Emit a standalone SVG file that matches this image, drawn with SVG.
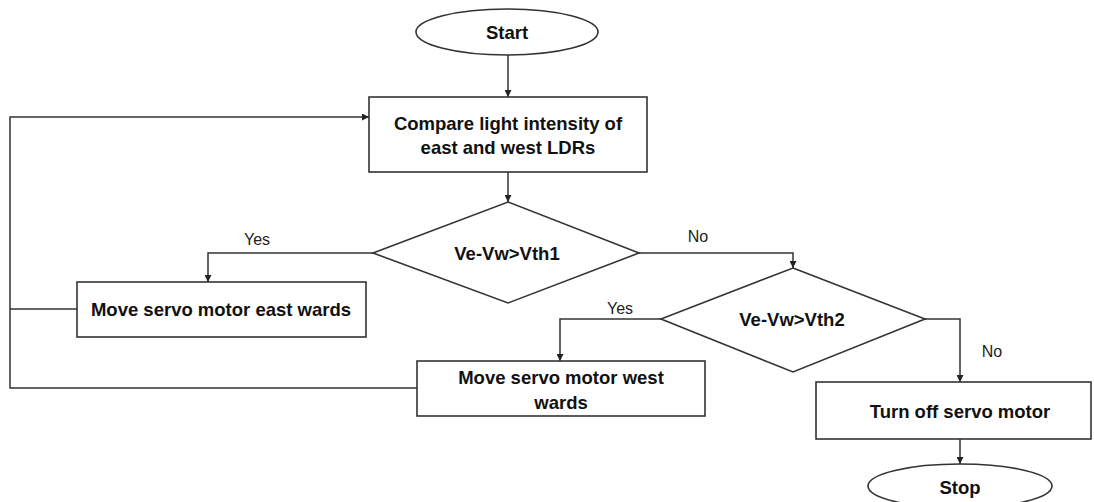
<svg xmlns="http://www.w3.org/2000/svg" width="1094" height="502" viewBox="0 0 1094 502">
<defs>
<style>
.shape{fill:#fff;stroke:#333;stroke-width:1.6}
.conn{fill:none;stroke:#333;stroke-width:1.5}
.t{font-family:"Liberation Sans",Arial,sans-serif;font-weight:bold;font-size:18.5px;fill:#111;text-anchor:middle;dominant-baseline:central}
.lbl{font-family:"Liberation Sans",Arial,sans-serif;font-size:16px;fill:#222;text-anchor:middle;dominant-baseline:central}
</style>
<marker id="arr" viewBox="0 0 10 10" refX="10" refY="5" markerWidth="7" markerHeight="7" markerUnits="userSpaceOnUse" orient="auto">
<path d="M0,0 L10,5 L0,10 z" fill="#222"/>
</marker>
</defs>
<rect width="1094" height="502" fill="#fff"/>
<g id="connectors">
<path class="conn" d="M508,55 V97" marker-end="url(#arr)"/>
<path class="conn" d="M508,172 V202" marker-end="url(#arr)"/>
<path class="conn" d="M373,253 H208 V282" marker-end="url(#arr)"/>
<path class="conn" d="M639,253 H793 V268" marker-end="url(#arr)"/>
<path class="conn" d="M661,319 H560 V361" marker-end="url(#arr)"/>
<path class="conn" d="M925,319 H960 V382" marker-end="url(#arr)"/>
<path class="conn" d="M960,439 V464" marker-end="url(#arr)"/>
<path class="conn" d="M77,309 H10"/>
<path class="conn" d="M417,388 H10 V117 H369" marker-end="url(#arr)"/>
<text class="lbl" x="257" y="239">Yes</text>
<text class="lbl" x="698" y="236">No</text>
<text class="lbl" x="620" y="308">Yes</text>
<text class="lbl" x="992" y="351">No</text>
</g>
<g id="start">
<ellipse class="shape" cx="507" cy="32" rx="91" ry="23"/>
<text class="t" x="507" y="32">Start</text>
</g>
<g id="compare">
<rect class="shape" x="369" y="97" width="278" height="75"/>
<text class="t" x="508" y="123">Compare light intensity of</text>
<text class="t" x="508" y="147">east and west LDRs</text>
</g>
<g id="decision1">
<polygon class="shape" points="508,202 639,253 508,303 373,253"/>
<text class="t" x="507" y="253">Ve-Vw&gt;Vth1</text>
</g>
<g id="east">
<rect class="shape" x="77" y="282" width="289" height="55"/>
<text class="t" x="221" y="309">Move servo motor east wards</text>
</g>
<g id="decision2">
<polygon class="shape" points="793,268 925,319 793,372 661,319"/>
<text class="t" x="792" y="319">Ve-Vw&gt;Vth2</text>
</g>
<g id="west">
<rect class="shape" x="417" y="361" width="288" height="55"/>
<text class="t" x="561" y="377">Move servo motor west</text>
<text class="t" x="561" y="402">wards</text>
</g>
<g id="turnoff">
<rect class="shape" x="816" y="382" width="275" height="57"/>
<text class="t" x="960" y="411">Turn off servo motor</text>
</g>
<g id="stop">
<ellipse class="shape" cx="960" cy="486" rx="92" ry="22"/>
<text class="t" x="960" y="487">Stop</text>
</g>
</svg>
